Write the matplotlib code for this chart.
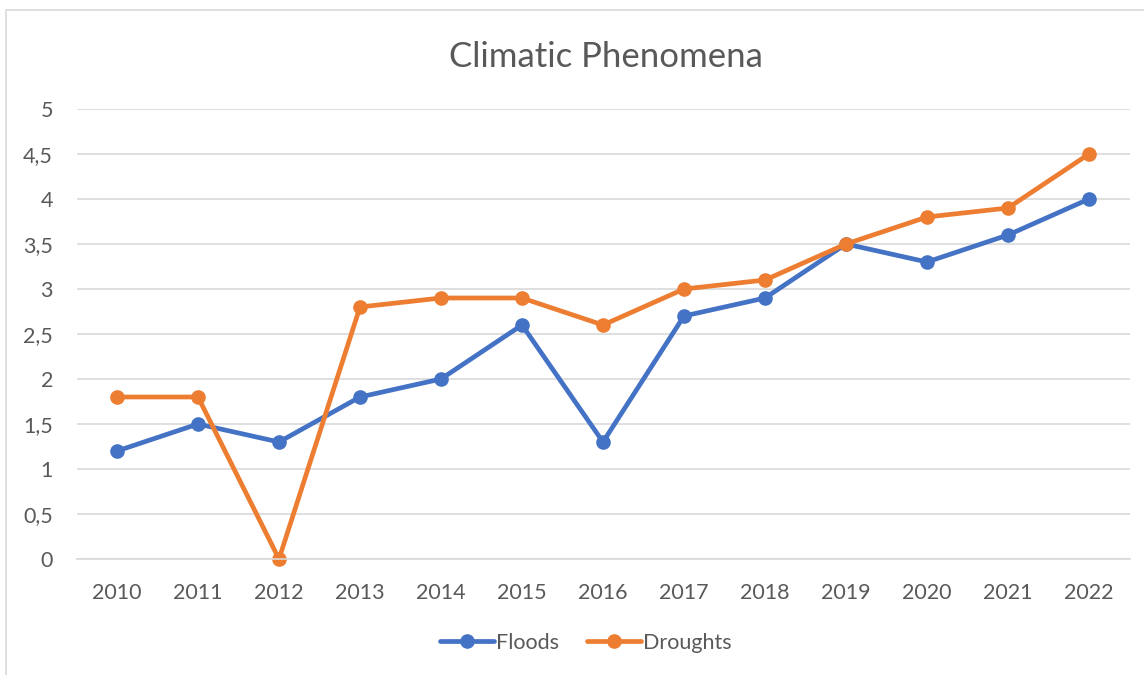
import matplotlib.pyplot as plt
from matplotlib.patches import Rectangle

# 資料
years = ['2010', '2011', '2012', '2013', '2014', '2015', '2016',
         '2017', '2018', '2019', '2020', '2021', '2022']
floods = [1.2, 1.5, 1.3, 1.8, 2.0, 2.6, 1.3, 2.7, 2.9, 3.5, 3.3, 3.6, 4.0]
droughts = [1.8, 1.8, 0.0, 2.8, 2.9, 2.9, 2.6, 3.0, 3.1, 3.5, 3.8, 3.9, 4.5]
y_ticks = [0, 0.5, 1, 1.5, 2, 2.5, 3, 3.5, 4, 4.5, 5]

plt.rcParams['font.family'] = ['Lato', 'DejaVu Sans']
text_color = '#595959'
grid_color = '#D9D9D9'

fig = plt.figure(figsize=(11.44, 6.75), dpi=100)
ax = fig.add_axes([76.5 / 1144, 116 / 675, 1053 / 1144, 450 / 675])

# 外框 (只看得到左邊與上方)
fig.patches.append(Rectangle((6 / 1144, -0.1), 1.2, (665 / 675) + 0.1,
                             transform=fig.transFigure, fill=False,
                             edgecolor=grid_color, linewidth=1.2))

x = range(len(years))
ax.plot(x, floods, color='#4472C4', linewidth=3.4, marker='o',
        markersize=9.5, label='Floods', solid_capstyle='round', clip_on=False)
ax.plot(x, droughts, color='#ED7D31', linewidth=3.4, marker='o',
        markersize=9.5, label='Droughts', solid_capstyle='round', clip_on=False)

ax.set_xlim(-0.5, len(years) - 0.5)
ax.set_ylim(0, 5)
ax.set_xticks(list(x))
ax.set_xticklabels(years)
ax.set_yticks(y_ticks)
ax.set_yticklabels([f'{v:g}'.replace('.', ',') for v in y_ticks])
ax.tick_params(length=0, labelsize=15.5, labelcolor=text_color)
ax.tick_params(axis='y', pad=17)
ax.tick_params(axis='x', pad=17)

for s in ['top', 'right', 'left']:
    ax.spines[s].set_visible(False)
ax.spines['bottom'].set_color(grid_color)
ax.spines['bottom'].set_linewidth(1.2)
ax.grid(axis='y', color=grid_color, linewidth=1.2)
ax.set_axisbelow(True)

fig.text(606 / 1144, 1 - 57 / 675, 'Climatic Phenomena', ha='center',
         va='center', fontsize=25, color=text_color)

fig.legend(loc='center', bbox_to_anchor=(586 / 1144, 1 - 643 / 675), ncol=2,
           frameon=False, fontsize=15.5, labelcolor=text_color,
           handlelength=2.5, handletextpad=0.1, columnspacing=1.3)

fig.savefig('out.png', dpi=100)
